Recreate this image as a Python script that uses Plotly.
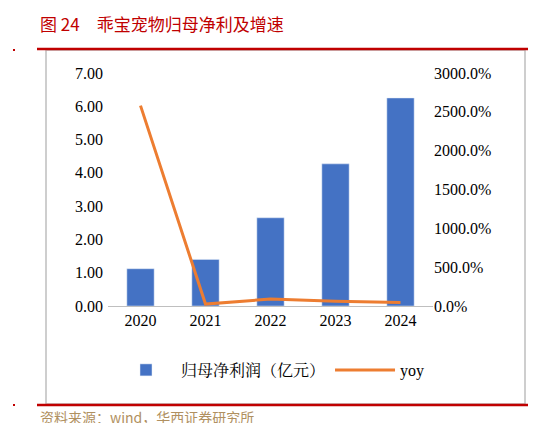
import plotly.graph_objects as go

years = ['2020', '2021', '2022', '2023', '2024']
profit = [1.12, 1.40, 2.65, 4.27, 6.25]
yoy = [2580, 25, 90, 60, 45]

W, H = 536, 423
L, R, T, B = 100, 425, 65, 298


def px(x):
    return (x - L) / (R - L)


def py(y):
    return (B - y) / (B - T)


fig = go.Figure()
fig.add_trace(go.Bar(x=years, y=profit, name='归母净利润（亿元）', marker_color='#4472C4',
                     width=0.42, yaxis='y'))
fig.add_trace(go.Scatter(x=years, y=yoy, name='yoy', mode='lines',
                         line=dict(color='#ED7D31', width=3), yaxis='y2'))

font = 'Times New Roman, Liberation Serif, Noto Serif CJK SC, Noto Sans CJK SC'
fig.update_layout(
    width=W, height=H,
    margin=dict(l=L, r=W - R, t=T, b=H - B, autoexpand=False),
    plot_bgcolor='white', paper_bgcolor='white',
    font=dict(family=font, size=16, color='black'),
    xaxis=dict(showline=True, linecolor='#BFBFBF', ticks='', tickfont=dict(size=16)),
    yaxis=dict(range=[0, 7], dtick=1, tickformat='.2f', showgrid=False, zeroline=False,
               ticksuffix=' '),
    yaxis2=dict(range=[0, 3000], dtick=500, overlaying='y', side='right', showgrid=False,
                tickformat='.1f', ticksuffix='%', zeroline=False),
    legend=dict(orientation='h', x=0.5, xanchor='center', y=py(362), yanchor='middle',
                font=dict(size=16), itemwidth=60),
    showlegend=True,
)

shapes = [
    dict(type='rect', xref='paper', yref='paper', x0=px(38), x1=px(517), y0=py(396), y1=py(42),
         line=dict(color='#BFBFBF', width=1.5)),
    dict(type='line', xref='paper', yref='paper', x0=px(29), x1=px(536), y0=py(41), y1=py(41),
         line=dict(color='#C00000', width=2.5)),
    dict(type='line', xref='paper', yref='paper', x0=px(29), x1=px(536), y0=py(397), y1=py(397),
         line=dict(color='#C00000', width=2.5)),
    dict(type='line', xref='paper', yref='paper', x0=px(5), x1=px(7), y0=py(42), y1=py(42),
         line=dict(color='#C00000', width=2)),
    dict(type='line', xref='paper', yref='paper', x0=px(5), x1=px(7), y0=py(397), y1=py(397),
         line=dict(color='#C00000', width=2)),
]
fig.update_layout(shapes=shapes)

fig.add_annotation(text='图 24　乖宝宠物归母净利及增速', xref='paper', yref='paper',
                   x=px(30), y=py(16), xanchor='left', yanchor='middle', showarrow=False,
                   font=dict(size=17, color='#C00000', family='Noto Sans CJK SC'))
fig.add_annotation(text='资料来源：wind，华西证券研究所', xref='paper', yref='paper',
                   x=px(30), y=py(409), xanchor='left', yanchor='middle', showarrow=False,
                   font=dict(size=14, color='#B09060', family='Noto Sans CJK SC'))

fig.write_html('out.html')
